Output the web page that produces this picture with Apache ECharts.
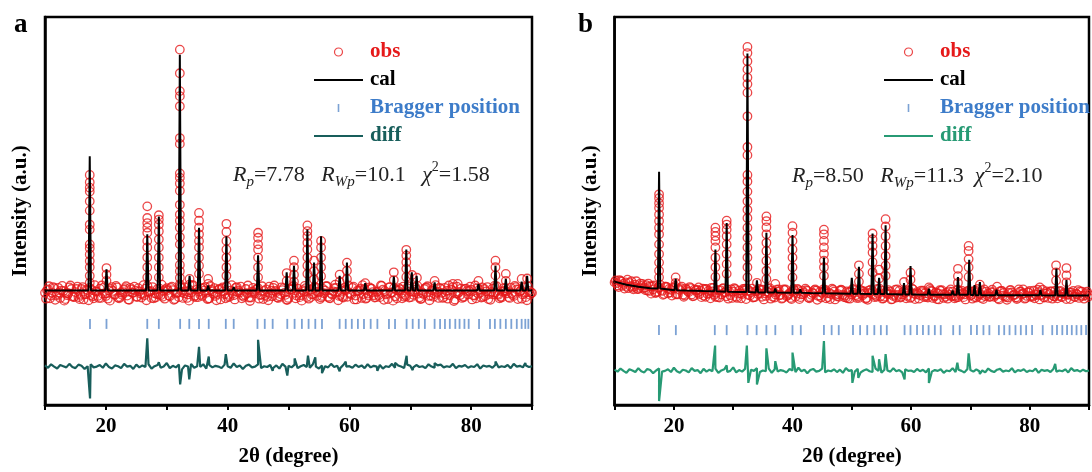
<!DOCTYPE html>
<html><head><meta charset="utf-8">
<script src="https://cdn.jsdelivr.net/npm/echarts@6/dist/echarts.min.js"></script>
<style>html,body{margin:0;padding:0;background:#fff}#c{width:1092px;height:472px}</style>
</head><body><div id="c"></div>
<script>
// ---------- shared ----------
const xStart = 10, xStep = 0.5;            // 2θ grid of the background samples
const xStart2 = 10.17, xStart3 = 10.33;    // interleaved background grids
const xTickLabels = [20, 40, 60, 80];
const legendNames = ['obs', 'cal', 'Bragger position', 'diff'];

// ---------- panel a ----------
const obsBaseA = [
28.9,29.8,28.2,30.1,28.6,27.6,29.4,28.8,30.3,28.0,
29.1,27.8,29.9,28.5,29.6,28.3,27.5,29.2,30.0,28.7,
28.1,29.5,30.4,28.4,27.7,29.0,29.7,28.2,30.2,28.9,
27.9,29.3,28.6,30.0,29.2,27.6,28.8,29.9,28.3,29.4,
30.1,28.0,29.6,28.7,27.8,29.1,30.3,28.5,29.0,27.9,
29.8,28.4,30.2,28.9,27.5,29.3,28.1,29.7,30.0,28.6,
27.8,29.5,28.3,30.4,29.0,28.2,29.9,27.7,29.2,28.8,
30.1,28.5,29.4,27.9,28.7,30.2,29.1,28.0,29.6,28.4,
27.6,29.8,28.9,30.0,28.3,29.3,27.8,29.7,28.6,30.3,
29.0,28.1,29.5,27.9,28.8,30.1,29.2,28.4,27.7,29.6,
28.9,30.2,28.2,29.4,27.6,29.9,28.7,30.0,28.3,29.1,
27.8,29.7,28.5,30.3,29.0,28.0,29.5,28.8,27.9,30.1,
29.3,28.4,29.8,27.7,28.9,30.2,28.1,29.6,28.6,29.2,
30.0,27.8,29.4,28.3,30.4,28.7,29.1,27.6,29.9,28.5,
29.7,28.2,30.1,28.9,27.9,29.3,28.6,30.0,29.0,28.4,
27.7,29.5,28.8,30.2,28.1,29.8,29.2,28.5,27.8,29.4,
28.9];
const obsBase2A = [
27.4,30.6,28.9,27.1,30.2,29.5,26.9,28.3,30.8,27.8,
29.9,27.3,30.4,28.6,27.0,29.7,30.9,28.1,27.6,30.3,
28.8,26.9,29.4,30.7,27.5,28.4,30.1,27.2,29.8,30.5,
27.9,28.7,30.9,27.0,29.2,30.4,27.7,28.5,31.0,27.4,
29.6,30.2,27.1,28.9,30.6,27.6,29.3,26.9,30.8,28.2,
27.8,30.0,29.5,27.3,30.7,28.6,27.0,29.9,30.3,27.5,
28.4,30.9,27.2,29.1,30.5,27.9,28.8,26.8,30.2,29.7,
27.4,30.6,28.3,27.0,29.5,30.8,27.7,28.6,30.1,27.1,
29.8,30.4,27.5,28.9,26.9,30.7,29.2,27.8,30.3,28.1,
27.3,29.9,30.6,27.6,28.5,31.0,27.0,29.4,30.2,27.9,
28.7,30.5,27.2,29.6,30.9,27.4,28.2,30.0,27.7,29.3,
30.8,27.1,28.8,30.4,26.9,29.7,30.1,27.5,28.4,30.6,
27.8,29.1,30.7,27.3,28.6,30.3,27.0,29.5,30.9,27.6,
28.9,30.2,27.4,29.8,26.8,30.5,28.3,27.9,30.0,29.4,
27.2,30.8,28.7,27.7,29.9,30.4,27.1,28.5,30.6,27.5,
29.2,30.1,27.8,28.8,30.7,27.3,29.6,30.3,27.0,28.4];
const obsBase3A = [
29.6,27.5,30.4,28.2,29.0,30.7,27.3,28.8,29.9,27.9,
30.5,28.4,27.2,29.7,30.2,28.0,29.3,27.6,30.8,28.7,
27.4,29.9,28.5,30.3,27.8,29.1,30.6,27.1,28.9,29.5,
30.1,27.7,28.3,30.7,29.4,27.5,28.6,30.0,27.9,29.8,
28.2,30.5,27.3,29.0,30.3,28.8,27.6,29.6,30.9,27.8,
29.2,28.1,30.4,27.4,29.7,30.1,28.6,27.2,29.3,30.6,
27.9,28.7,30.2,29.5,27.5,28.4,30.8,27.7,29.1,30.0,
28.3,27.3,29.8,30.5,28.0,29.4,27.6,30.3,28.9,27.1,
29.9,30.7,28.2,27.8,29.6,30.1,27.4,28.5,30.4,29.2,
27.7,28.8,30.6,27.5,29.3,30.2,28.1,27.9,29.7,30.8,
28.4,27.2,29.5,30.0,28.6,27.6,30.3,29.1,27.8,28.3,
30.7,29.4,27.3,28.9,30.1,27.5,29.8,30.5,28.0,27.7,
29.2,30.4,28.7,27.4,29.9,30.6,28.2,27.9,29.0,30.2,
27.6,28.5,30.8,29.6,27.2,28.8,30.0,27.8,29.4,30.5,
28.3,27.5,29.7,30.3,28.1,27.3,29.1,30.7,28.6,27.9,
30.1,29.3,27.6,28.4,30.4,29.8,27.4,28.9,30.6,29.0];
const obsPeaksA = [
[17.35,[59.3,57.4,56.0,55.0,52.5,50.1,46.5,45.2,41.4,40.4,38.8,37.1,35.5,33.3,31.5]],
[20.1,[35.3,33.6,32.0]],
[26.8,[51.2,48.2,46.9,45.7,44.4,42.3,40.6,38.0,35.5,32.9]],
[28.7,[48.9,47.8,46.5,44.8,42.7,40.6,38.0,35.5,32.9]],
[32.15,[91.6,85.5,80.9,79.6,77.0,68.8,67.3,59.7,58.6,57.1,55.2,51.6,49.1,47.5,45.7,43.3,41.4,38.3,36.1,34.5,32.8,31.1]],
[33.75,[32.5,31.0]],
[35.3,[49.5,47.5,45.7,44.0,42.3,40.6,38.0,35.9,33.8]],
[36.8,[32.5,31.2]],
[39.8,[46.7,44.6,42.3,40.1,38.0,35.5,33.3]],
[45.0,[44.4,43.1,41.4,40.1,38.0,35.5,32.9]],
[49.7,[34.0,32.0]],
[50.9,[37.2,35.5,33.6,31.8]],
[53.1,[46.3,44.8,43.5,41.8,40.1,38.0,35.9,33.8]],
[54.2,[37.2,34.5,32.4]],
[55.35,[42.3,40.6,38.0,35.5,33.2]],
[58.4,[33.6,31.8]],
[59.6,[36.7,34.6,32.5]],
[62.6,[31.4]],
[67.3,[34.2,32.2]],
[69.35,[40.0,38.5,36.8,35.1,33.0]],
[70.3,[33.5]],
[71.1,[32.8]],
[74.0,[32.0]],
[77.0,[31.2]],
[77.8,[31.2]],
[81.2,[32.0]],
[84.0,[37.2,35.5,33.4]],
[85.7,[33.8,32.0]],
[88.3,[32.5]],
[89.2,[32.6]]];
const calBaseA = [[10,29.5],[90,29.5]];
const calPeaksA = [ // [2θ, apex, foot]
[17.35,64.1,29.5],[20.1,35.0,29.5],[26.8,44.0,29.5],[28.7,48.6,29.5],[32.15,90.3,29.5],
[33.75,33.3,29.5],[35.3,45.7,29.5],[36.8,30.8,29.5],[39.8,43.5,29.5],[41.0,30.4,29.5],
[45.0,38.6,29.5],[49.7,34.2,29.5],[50.9,35.9,29.5],[53.1,45.2,29.5],[54.2,36.7,29.5],
[55.35,43.5,29.5],[58.4,33.3,29.5],[59.6,36.7,29.5],[62.6,31.4,29.5],[67.3,33.1,29.5],
[69.35,40.1,29.5],[70.25,34.2,29.5],[71.05,33.3,29.5],[74.0,31.6,29.5],[81.2,31.2,29.5],
[84.0,35.9,29.5],[85.7,32.5,29.5],[88.3,31.8,29.5],[89.2,33.3,29.5]];
const diffBaseA = [
10.2,9.6,10.5,9.9,9.4,10.3,10.0,9.7,10.6,9.8,
9.5,10.4,10.1,9.3,10.0,10.5,9.7,9.9,10.3,9.6,
10.7,9.8,9.4,10.2,10.0,9.5,10.6,9.9,10.1,9.3,
10.4,9.7,10.2,9.8,10.5,9.4,10.0,10.3,9.6,9.9,
10.8,9.5,10.1,9.7,10.4,9.2,10.2,9.9,10.6,9.6,
10.0,9.8,10.5,9.4,10.3,9.7,10.1,9.9,9.5,10.4,
10.0,9.6,10.7,9.8,10.2,9.3,10.1,10.4,9.7,9.9,
10.5,9.5,10.0,9.8,10.3,9.6,10.2,9.4,10.6,9.9,
10.1,9.7,10.4,9.5,10.0,10.3,9.8,9.6,10.5,9.9,
9.4,10.2,10.0,9.7,10.6,9.8,10.1,9.5,10.3,9.9,
10.0,9.6,10.4,9.8,10.2,9.5,10.5,9.7,10.1,9.9,
10.3,9.4,10.0,9.8,10.6,9.6,10.2,9.9,9.5,10.4,
10.1,9.7,10.3,9.8,10.0,9.5,10.5,9.9,9.6,10.2,
10.4,9.7,10.0,9.8,10.6,9.5,10.1,9.9,10.3,9.6,
10.0,9.8,10.5,9.4,10.2,9.9,10.1,9.6,10.4,9.7,
10.0,9.8,10.3,9.5,10.6,9.9,10.1,9.7,10.2,9.8,
10.0];
const diffSpikesA = [
[17.4,1.7],[26.8,17.2],[28.7,11.0],[32.2,5.3],[33.7,6.6],[35.3,15.0],[36.9,12.5],[39.7,13.1],
[41.0,10.9],[45.0,16.8],[47.4,8.8],[49.8,7.6],[51.0,12.0],[53.2,12.7],[54.4,12.3],[55.5,8.2],
[58.4,8.7],[59.4,11.2],[64.6,8.8],[67.5,10.9],[69.4,12.7],[70.4,9.0],[74.0,10.8],[81.3,10.6],
[84.0,11.2],[88.9,10.8]];
const braggA = [17.39,20.1,26.8,28.7,32.2,33.7,35.3,36.9,39.7,41.0,44.9,46.1,47.4,49.8,51.0,52.2,
53.3,54.4,55.5,58.4,59.4,60.4,61.4,62.4,63.5,64.6,66.5,67.5,69.4,70.4,71.4,72.4,74.0,74.9,75.7,
76.5,77.4,78.1,78.9,79.6,81.3,83.1,83.9,84.8,85.7,86.6,87.5,88.3,88.9,89.4];
const braggLevelA = 20.9;

// ---------- panel b ----------
const obsBaseB = [
31.6,30.8,32.0,31.2,30.5,31.5,30.2,31.0,29.9,30.7,
30.3,29.5,30.6,29.8,28.9,30.2,29.4,30.5,28.8,29.7,
30.1,28.7,29.6,28.4,30.0,29.1,28.5,29.8,28.9,29.4,
28.2,29.9,28.8,29.3,27.9,29.6,28.5,29.0,29.8,28.3,
29.2,27.9,29.5,28.6,30.0,28.4,29.1,27.8,29.4,28.7,
29.7,28.1,28.9,29.5,27.7,29.2,28.4,29.8,28.0,28.8,
29.3,27.9,29.6,28.5,28.9,29.4,27.8,28.7,29.5,28.2,
28.9,29.7,27.8,28.6,29.2,28.0,29.5,28.4,27.7,29.1,
28.5,29.6,28.0,28.8,29.3,27.6,28.9,29.4,28.2,28.7,
29.5,27.9,28.6,29.2,28.1,27.7,29.4,28.5,28.9,29.6,
27.8,28.7,29.1,28.3,29.5,27.9,28.6,29.3,28.0,28.8,
29.4,27.6,28.9,28.4,29.2,28.1,27.8,29.5,28.5,28.9,
28.2,29.3,27.7,28.6,29.4,28.0,28.8,29.1,27.9,28.5,
29.3,28.2,27.8,28.9,29.0,28.4,27.6,29.2,28.7,28.1,
29.4,27.9,28.5,29.1,28.3,27.7,28.9,29.3,28.0,28.6,
29.2,27.8,28.7,28.4,29.0,27.9,28.5,29.3,28.1,28.8,
28.4];
const obsBase2B = [
32.1,30.4,31.8,30.0,32.3,30.6,29.8,31.9,30.2,31.2,
29.6,31.3,28.7,30.8,29.2,31.0,28.4,30.5,29.9,28.2,
30.6,28.5,30.1,27.9,29.7,30.4,28.0,29.5,30.3,27.8,
29.9,28.6,27.5,30.2,28.9,27.7,30.0,29.1,27.4,29.8,
30.1,27.6,28.8,29.9,27.3,29.5,30.0,27.8,28.6,29.7,
27.2,29.3,30.1,27.9,28.5,29.8,27.4,29.6,28.2,27.6,
29.9,28.7,27.3,29.4,30.0,27.7,28.4,29.6,27.1,29.2,
29.8,27.5,28.9,30.0,27.2,28.6,29.7,27.8,29.3,27.4,
29.9,28.3,27.6,29.5,28.8,27.1,29.7,28.5,27.9,30.0,
27.4,28.9,29.6,27.2,28.4,29.8,27.7,29.1,27.5,29.4,
30.0,27.3,28.7,29.5,27.8,28.2,29.9,27.6,29.0,27.2,
29.6,28.5,27.4,29.8,28.1,27.7,29.3,28.8,27.2,29.5,
28.4,27.8,29.9,28.6,27.3,29.2,27.9,29.7,28.3,27.5,
29.4,28.9,27.1,29.6,28.2,27.7,29.8,28.5,27.4,29.1,
27.9,29.5,28.3,27.2,29.7,28.7,27.6,29.3,28.0,27.5,
29.4,28.6,27.3,29.0,28.4,27.8,29.6,28.1,27.4,29.2];
const obsBase3B = [
31.4,32.2,30.7,31.6,30.1,31.9,30.5,29.9,31.3,30.0,
30.9,29.4,30.6,28.9,30.3,29.6,28.6,30.4,29.0,30.2,
28.5,29.9,30.5,28.3,29.3,30.1,28.1,29.7,28.6,30.0,
27.9,29.4,30.2,28.4,27.8,29.6,30.1,28.0,29.2,27.6,
29.9,28.7,27.5,29.5,30.0,28.2,27.7,29.3,29.9,27.9,
28.8,30.0,27.4,29.1,29.7,28.3,27.6,29.8,28.5,27.3,
29.5,29.9,27.8,28.6,29.6,27.5,29.0,29.8,28.1,27.7,
29.4,28.8,27.3,29.7,28.4,27.9,29.6,28.2,27.5,29.3,
28.9,27.6,29.8,28.3,27.4,29.5,28.7,27.8,29.9,28.0,
27.5,29.2,28.6,27.3,29.7,28.4,27.9,29.4,28.1,27.6,
29.8,28.5,27.4,29.1,28.8,27.7,29.5,28.2,27.3,29.6,
28.6,27.9,29.3,28.0,27.5,29.7,28.4,27.8,29.2,28.7,
27.4,29.5,28.1,27.6,29.8,28.3,27.9,29.1,28.6,27.2,
29.4,28.0,27.7,29.6,28.5,27.3,29.2,28.8,27.6,29.0,
28.2,27.5,29.7,28.4,27.8,29.3,28.6,27.4,29.5,28.1,
27.9,29.0,28.5,27.3,29.4,28.7,27.6,29.2,28.3,27.8];
const obsPeaksB = [
[17.5,[54.3,53.3,52.0,50.8,49.1,47.4,45.7,44.0,41.4,38.9,36.7,34.6,32.9]],
[20.3,[32.9,31.5]],
[27.0,[45.7,44.6,43.5,42.3,40.6,38.0,35.5,33.0]],
[28.9,[47.5,46.5,45.2,43.5,41.4,38.9,36.3,33.8]],
[32.4,[92.3,90.7,88.6,86.5,84.4,82.7,80.5,74.4,66.5,64.4,59.3,57.6,55.0,52.5,50.3,48.2,45.7,43.1,40.6,38.0,35.5,32.9]],
[34.0,[31.5]],
[35.6,[48.6,47.4,45.8,44.0,41.8,39.7,37.2,34.6,32.5]],
[37.1,[31.2]],
[40.0,[46.1,44.4,42.3,40.1,38.0,35.5,32.9]],
[45.3,[45.2,44.0,42.3,40.6,38.9,37.2,35.5,33.3]],
[51.2,[36.0,33.8,31.8]],
[53.5,[44.2,42.7,41.0,39.3,36.8,34.2]],
[54.6,[34.9,32.6]],
[55.7,[47.9,46.0,43.5,41.0,38.4,35.9,33.3]],
[58.8,[31.7]],
[59.9,[34.1,32.3]],
[63.0,[30.3]],
[67.9,[35.1,33.2,31.5]],
[69.7,[41.0,39.7,37.6,35.5,33.0]],
[71.6,[31.0]],
[74.5,[30.5]],
[78.9,[29.8]],
[81.7,[30.3]],
[84.45,[36.0,34.2,32.1]],
[86.2,[35.3,33.4,31.6]]];
const calBaseB = [[10,31.8],[12,31.0],[14,30.5],[16,30.1],[22,29.5],[25,29.35],[31,29.1],
[43,28.85],[61,28.45],[76,28.3],[90,28.2]];
const calPeaksB = [ // [2θ, apex, foot]
[17.5,60.1,30.0],[20.3,32.5,29.6],[27.0,40.1,29.3],[28.9,46.9,29.2],[32.4,90.6,29.1],
[34.0,32.1,29.0],[35.6,44.4,29.0],[37.1,30.0,29.0],[40.0,43.8,28.9],[41.3,29.8,28.9],
[45.3,38.0,28.8],[50.0,32.8,28.7],[51.2,35.6,28.7],[53.5,44.2,28.6],[54.6,32.8,28.6],
[55.7,46.3,28.6],[58.8,31.4,28.5],[59.9,35.8,28.5],[63.0,30.0,28.4],[67.0,29.5,28.4],
[67.9,33.0,28.4],[69.8,37.4,28.4],[70.7,30.9,28.3],[71.6,31.7,28.3],[74.4,29.7,28.3],
[81.8,29.7,28.3],[84.5,35.2,28.2],[86.2,32.2,28.2]];
const diffBaseB = [
9.1,8.6,9.4,8.8,8.3,9.2,8.9,8.5,9.5,8.7,
8.4,9.3,9.0,8.2,8.9,9.4,8.6,8.8,9.2,8.5,
9.6,8.7,8.3,9.1,8.9,8.4,9.5,8.8,9.0,8.2,
9.3,8.6,9.1,8.7,9.4,8.3,8.9,9.2,8.5,8.8,
9.7,8.4,9.0,8.6,9.3,8.1,9.1,8.8,9.5,8.5,
8.9,8.7,9.4,8.3,9.2,8.6,9.0,8.8,8.4,9.3,
8.9,8.5,9.6,8.7,9.1,8.2,9.0,9.3,8.6,8.8,
9.4,8.4,8.9,8.7,9.2,8.5,9.1,8.3,9.5,8.8,
9.0,8.6,9.3,8.4,8.9,9.2,8.7,8.5,9.4,8.8,
8.3,9.1,8.9,8.6,9.5,8.7,9.0,8.4,9.2,8.8,
8.9,8.5,9.3,8.7,9.1,8.4,9.4,8.6,9.0,8.8,
9.2,8.3,8.9,8.7,9.5,8.5,9.1,8.8,8.4,9.3,
9.0,8.6,9.2,8.7,8.9,8.4,9.4,8.8,8.5,9.1,
9.3,8.6,8.9,8.7,9.5,8.4,9.0,8.8,9.2,8.5,
8.9,8.7,9.4,8.3,9.1,8.8,9.0,8.5,9.3,8.6,
8.9,8.7,9.2,8.4,9.5,8.8,9.0,8.6,9.1,8.7,
8.9];
const diffSpikesB = [
[17.5,1.0],[26.95,15.3],[28.9,10.2],[32.3,15.3],[32.55,5.7],[34.0,5.3],[35.6,14.6],[37.1,11.3],
[40.0,13.5],[45.3,16.5],[50.1,5.7],[51.1,7.0],[53.5,12.7],[54.6,11.8],[55.7,13.1],[58.9,6.6],
[63.0,5.7],[67.8,10.9],[69.7,13.3],[71.6,8.0],[84.3,10.6]];
const braggB = [17.48,20.33,26.9,28.9,32.4,33.95,35.6,37.1,40.0,41.4,45.3,46.6,47.8,50.2,51.4,52.6,
53.8,54.9,55.9,58.9,59.9,61.0,62.0,62.95,64.0,65.0,67.1,68.2,70.1,71.1,72.2,73.2,74.8,75.7,76.6,
77.6,78.5,79.4,80.4,82.2,83.8,84.6,85.5,86.3,87.1,87.9,88.7,89.5];
const braggLevelB = 19.3;

// ---------- styling ----------
const SERIF = '"Liberation Serif","Times New Roman",serif';
const RED = '#e6191a', BRAGG = '#5b8bc9', BRAGG_TXT = '#3d7cc9';
const DIFF_A = '#185e5b', DIFF_B = '#279a74';
const LINE_ICON = 'path://M0,0L49,0L49,2.2L0,2.2Z';

function gridPts(arr, start) {
  return arr.map((v, i) => [+(start + i * xStep).toFixed(2), v]);
}
function obsPoints(b1, b2, b3, peaks) {
  const pts = gridPts(b1, xStart).concat(gridPts(b2, xStart2), gridPts(b3, xStart3));
  peaks.forEach(([x, hs]) => hs.forEach(h => pts.push([x, h])));
  return pts;
}
function calPoints(base, peaks) {
  const pts = base.map(p => p.slice());
  peaks.forEach(([x, h, f]) => pts.push([x - 0.2, f], [x, h], [x + 0.2, f]));
  return pts.sort((a, b) => a[0] - b[0]);
}
function diffPoints(base, spikes) {
  return gridPts(base, xStart).concat(spikes).sort((a, b) => a[0] - b[0]);
}

function xAxisCfg(gi) {
  return {
    gridIndex: gi, type: 'value', min: 10, max: 90, interval: 10,
    axisLine: { lineStyle: { color: '#000', width: 2.5 } },
    axisTick: { length: 5, lineStyle: { color: '#000', width: 2 } },
    axisLabel: { margin: 11, color: '#000', fontFamily: SERIF, fontSize: 21, fontWeight: 'bold',
      formatter: v => xTickLabels.indexOf(v) >= 0 ? String(v) : '' },
    splitLine: { show: false },
    name: '2θ (degree)', nameLocation: 'middle', nameGap: 41,
    nameTextStyle: { color: '#000', fontFamily: SERIF, fontSize: 21, fontWeight: 'bold' }
  };
}
function yAxisCfg(gi) {
  return {
    gridIndex: gi, type: 'value', min: 0, max: 100,
    axisLine: { show: true, lineStyle: { color: '#000', width: 2.5 } },
    axisTick: { show: false }, axisLabel: { show: false }, splitLine: { show: false },
    name: 'Intensity (a.u.)', nameLocation: 'middle', nameGap: 14,
    nameTextStyle: { color: '#000', fontFamily: SERIF, fontSize: 21, fontWeight: 'bold' }
  };
}
function panelSeries(gi, obsB, obsB2, obsB3, obsP, calB, calP, diffB, diffS, bragg, braggLvl, diffColor) {
  return [
    { type: 'scatter', name: 'obs', xAxisIndex: gi, yAxisIndex: gi, data: obsPoints(obsB, obsB2, obsB3, obsP),
      symbol: 'circle', symbolSize: 8.5, z: 2, silent: true,
      itemStyle: { color: 'rgba(0,0,0,0)', borderColor: RED, borderWidth: 1.3 } },
    { type: 'line', name: 'cal', xAxisIndex: gi, yAxisIndex: gi, data: calPoints(calB, calP),
      symbol: 'none', showSymbol: false, z: 3, silent: true,
      lineStyle: { color: '#000', width: 2 }, itemStyle: { color: '#000' } },
    { type: 'scatter', name: 'Bragger position', xAxisIndex: gi, yAxisIndex: gi,
      data: bragg.map(x => [x, braggLvl]), symbol: 'rect', symbolSize: [1.8, 10], z: 2, silent: true,
      itemStyle: { color: BRAGG } },
    { type: 'line', name: 'diff', xAxisIndex: gi, yAxisIndex: gi, data: diffPoints(diffB, diffS),
      symbol: 'none', showSymbol: false, z: 2, silent: true,
      lineStyle: { color: diffColor, width: 2.2 }, itemStyle: { color: diffColor } }
  ];
}
function legendCfg(left, diffColor) {
  return {
    left: left, top: 33, orient: 'vertical', itemWidth: 49, itemHeight: 8, itemGap: 0,
    selectedMode: false,
    textStyle: { fontFamily: SERIF, fontSize: 21, fontWeight: 'bold', lineHeight: 28, padding: [0, 0, 0, 2] },
    data: [
      { name: legendNames[0], icon: 'circle',
        itemStyle: { color: 'rgba(0,0,0,0)', borderColor: RED, borderWidth: 1.2 }, textStyle: { color: RED } },
      { name: legendNames[1], icon: LINE_ICON, itemStyle: { color: '#000', borderWidth: 0 },
        textStyle: { color: '#000' } },
      { name: legendNames[2], icon: 'path://M0,0L2,0L2,10L0,10Z', itemStyle: { color: BRAGG, borderWidth: 0 },
        textStyle: { color: BRAGG_TXT } },
      { name: legendNames[3], icon: LINE_ICON, itemStyle: { color: diffColor, borderWidth: 0 },
        textStyle: { color: diffColor } }
    ]
  };
}
const richStyles = {
  i: { fontFamily: SERIF, fontSize: 22, fontStyle: 'italic', lineHeight: 30, fill: '#222' },
  n: { fontFamily: SERIF, fontSize: 22, lineHeight: 30, fill: '#222' },
  sub: { fontFamily: SERIF, fontSize: 15, fontStyle: 'italic', lineHeight: 15, verticalAlign: 'bottom', fill: '#222' },
  sup: { fontFamily: SERIF, fontSize: 14, lineHeight: 20, verticalAlign: 'top', fill: '#222' }
};

const chart = echarts.init(document.getElementById('c'), null, { renderer: 'canvas' });
chart.setOption({
  animation: false,
  backgroundColor: '#fff',
  grid: [
    { left: 45, top: 17, width: 487, height: 392, show: true, borderColor: '#000', borderWidth: 2.5, containLabel: false },
    { left: 614.6, top: 17, width: 486.5, height: 392, show: true, borderColor: '#000', borderWidth: 2.5, containLabel: false }
  ],
  xAxis: [xAxisCfg(0), xAxisCfg(1)],
  yAxis: [yAxisCfg(0), yAxisCfg(1)],
  legend: [legendCfg(309, DIFF_A), legendCfg(879, DIFF_B)],
  series: [].concat(
    panelSeries(0, obsBaseA, obsBase2A, obsBase3A, obsPeaksA, calBaseA, calPeaksA, diffBaseA, diffSpikesA, braggA, braggLevelA, DIFF_A),
    panelSeries(1, obsBaseB, obsBase2B, obsBase3B, obsPeaksB, calBaseB, calPeaksB, diffBaseB, diffSpikesB, braggB, braggLevelB, DIFF_B)
  ),
  graphic: [
    { type: 'text', left: 14, top: 12, style: { text: 'a', font: 'bold 27px ' + SERIF, fill: '#000' } },
    { type: 'text', left: 578, top: 12, style: { text: 'b', font: 'bold 27px ' + SERIF, fill: '#000' } },
    { type: 'text', x: 233, y: 160, style: {
        text: '{i|R}{sub|p}{n|=7.78   }{i|R}{sub|Wp}{n|=10.1   }{i|χ}{sup|2}{n|=1.58}',
        verticalAlign: 'top', rich: richStyles } },
    { type: 'text', x: 792, y: 161, style: {
        text: '{i|R}{sub|p}{n|=8.50   }{i|R}{sub|Wp}{n|=11.3  }{i|χ}{sup|2}{n|=2.10}',
        verticalAlign: 'top', rich: richStyles } }
  ]
});
</script>
</body></html>
